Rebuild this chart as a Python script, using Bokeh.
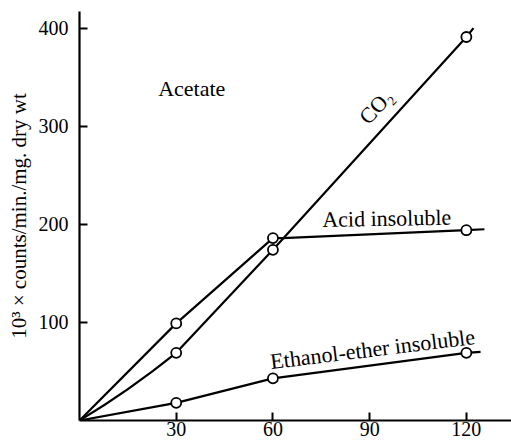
from bokeh.plotting import figure
from bokeh.models import Range1d, FixedTicker, Label
from bokeh.embed import file_html
from bokeh.resources import INLINE

# ---- data (minutes vs 10^3 counts/min/mg dry wt) ----
time_pts = [0, 30, 60, 120]
co2_pts = [0, 69, 174, 391]
acid_pts = [0, 99, 186, 194]
ethanol_pts = [0, 18, 43, 69]

# CO2 early curvature: value read at 15 min
co2_mid_x = 15
co2_mid_y = 32

# traced curves (include the short run-out past the last point)
co2_line_x = [30, 60, 120, 122.2]
co2_line_y = [69, 174, 391, 400]
acid_line_x = [0, 30, 60, 63, 120, 125.6]
acid_line_y = [0, 99, 186, 186, 194, 195]
ethanol_line_x = [0, 30, 60, 120, 124.4]
ethanol_line_y = [0, 18, 43, 69, 70]

x_ticks = [30, 60, 90, 120]
y_ticks = [100, 200, 300, 400]

FONT = "Liberation Serif"

p = figure(width=511, height=444,
           x_range=Range1d(0, 134), y_range=Range1d(0, 417),
           output_backend="svg", toolbar_location=None,
           min_border_left=79, min_border_right=0,
           min_border_top=11, min_border_bottom=24)
p.outline_line_color = None
p.xgrid.visible = False
p.ygrid.visible = False
p.background_fill_color = "white"
p.border_fill_color = "white"

for ax in (p.xaxis[0], p.yaxis[0]):
    ax.axis_line_width = 2.2
    ax.axis_line_color = "black"
    ax.major_tick_line_width = 2
    ax.major_tick_line_color = "black"
    ax.major_tick_in = 8
    ax.major_tick_out = 0
    ax.minor_tick_line_color = None
    ax.major_label_text_font = FONT
    ax.major_label_text_font_size = "20px"
    ax.major_label_text_color = "black"

p.xaxis.ticker = FixedTicker(ticks=x_ticks)
p.yaxis.ticker = FixedTicker(ticks=y_ticks)
p.xaxis.major_label_standoff = 1
p.yaxis.major_label_standoff = 11

p.yaxis.axis_label = "10³ × counts/min./mg. dry wt"
p.yaxis.axis_label_text_font = FONT
p.yaxis.axis_label_text_font_size = "21px"
p.yaxis.axis_label_text_font_style = "normal"
p.yaxis.axis_label_text_color = "black"
p.yaxis.axis_label_standoff = 5

# CO2 initial curved segment: quadratic through origin, mid reading and 30-min point
x0, y0 = time_pts[0], co2_pts[0]
x2, y2 = time_pts[1], co2_pts[1]
cx = 2 * co2_mid_x - 0.5 * (x0 + x2)
cy = 2 * co2_mid_y - 0.5 * (y0 + y2)
p.quadratic(x0=[x0], y0=[y0], x1=[x2], y1=[y2], cx=[cx], cy=[cy],
            line_color="black", line_width=2.2)

# lines
p.line(co2_line_x, co2_line_y, line_color="black", line_width=2.2)
p.line(acid_line_x, acid_line_y, line_color="black", line_width=2.2)
p.line(ethanol_line_x, ethanol_line_y, line_color="black", line_width=2.2)

# markers (skip origin)
for ys in (co2_pts, acid_pts, ethanol_pts):
    p.scatter(time_pts[1:], ys[1:], size=10, marker="circle",
              fill_color="white", line_color="black", line_width=1.8)

# text labels
def add_label(txt, x, y, angle_deg=0, align="left", baseline="alphabetic", size="22px"):
    p.add_layout(Label(x=x, y=y, text=txt, angle=angle_deg, angle_units="deg",
                       text_font=FONT, text_font_size=size, text_color="black",
                       text_align=align, text_baseline=baseline))

add_label("Acetate", 24.4, 339)
add_label("CO₂", 92.0, 320, angle_deg=47, align="center", baseline="middle")
add_label("Acid insoluble", 75.3, 205, angle_deg=1)
add_label("Ethanol-ether insoluble", 59.2, 60, angle_deg=7)

open("out.html", "w").write(file_html(p, INLINE))
